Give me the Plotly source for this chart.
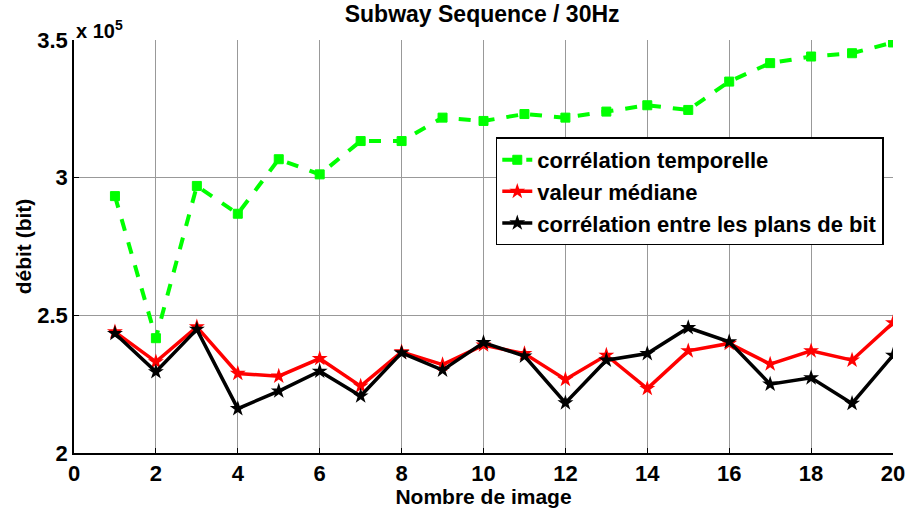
import plotly.graph_objects as go

images = list(range(1, 21))
temporelle = [2.933, 2.417, 2.970, 2.869, 3.067, 3.012, 3.133, 3.133, 3.218, 3.206,
              3.231, 3.218, 3.240, 3.263, 3.246, 3.349, 3.416, 3.440, 3.452, 3.491]
mediane = [2.440, 2.331, 2.458, 2.289, 2.279, 2.343, 2.243, 2.367, 2.321, 2.392,
           2.361, 2.267, 2.355, 2.234, 2.371, 2.398, 2.323, 2.371, 2.337, 2.473]
plans_bit = [2.434, 2.295, 2.449, 2.161, 2.225, 2.297, 2.207, 2.364, 2.301, 2.401,
             2.352, 2.182, 2.337, 2.361, 2.455, 2.404, 2.250, 2.273, 2.180, 2.355]
scale = 1e5
temporelle = [v * scale for v in temporelle]
mediane = [v * scale for v in mediane]
plans_bit = [v * scale for v in plans_bit]

x_ticks = [0, 2, 4, 6, 8, 10, 12, 14, 16, 18, 20]
y_ticks = [2e5, 2.5e5, 3e5, 3.5e5]
y_ticktext = ["2", "2.5", "3", "3.5"]

fig = go.Figure()
fig.add_trace(go.Scatter(
    x=images, y=temporelle, name="corrélation temporelle", mode="lines+markers",
    line=dict(color="#00ff00", width=4, dash="dash"),
    marker=dict(symbol="square", size=9, color="#00ff00",
                line=dict(color="#00ff00", width=1))))
fig.add_trace(go.Scatter(
    x=images, y=mediane, name="valeur médiane", mode="lines+markers",
    line=dict(color="#ff0000", width=3.5),
    marker=dict(symbol="star", size=12, color="#ff0000")))
fig.add_trace(go.Scatter(
    x=images, y=plans_bit, name="corrélation entre les plans de bit", mode="lines+markers",
    line=dict(color="#000000", width=3.5),
    marker=dict(symbol="star", size=12, color="#000000")))

fam = "Liberation Sans, Arial, sans-serif"
bold = dict(family=fam, color="black", weight="bold")
fig.update_layout(
    width=908, height=508,
    margin=dict(l=74, r=15, t=40, b=55),
    paper_bgcolor="white", plot_bgcolor="white",
    font=dict(family=fam, color="black"),
    title=dict(text="Subway Sequence / 30Hz", x=0.531, xanchor="center",
               y=0.972, yanchor="middle", font=dict(size=23, **bold)),
    showlegend=True,
    legend=dict(x=0.515, y=0.764, xanchor="left", yanchor="top",
                bgcolor="white", bordercolor="black", borderwidth=1.5,
                font=dict(size=22, **bold), tracegroupgap=0,
                itemwidth=30),
    xaxis=dict(range=[0, 20], tickvals=x_ticks, showgrid=True, gridcolor="#999999",
               gridwidth=1, zeroline=False, showline=True, linecolor="black",
               linewidth=1.5, ticks="inside", ticklen=5, tickcolor="black",
               tickfont=dict(size=22, **bold), automargin=False,
               title=dict(text="Nombre de image", font=dict(size=21, **bold), standoff=0)),
    yaxis=dict(range=[2e5, 3.5e5], tickvals=y_ticks, ticktext=y_ticktext, showgrid=True,
               gridcolor="#999999", gridwidth=1, zeroline=False, showline=True,
               linecolor="black", linewidth=1.5, ticks="inside", ticklen=5,
               tickcolor="black", tickfont=dict(size=22, **bold), automargin=False,
               title=dict(text="débit (bit)", font=dict(size=21, **bold), standoff=0)),
)
fig.add_annotation(text="x 10<sup>5</sup>", xref="paper", yref="paper",
                   x=0.0, y=1.0, xanchor="left", yanchor="bottom", showarrow=False,
                   font=dict(size=20, **bold), yshift=-4)
fig.write_html("out.html")
